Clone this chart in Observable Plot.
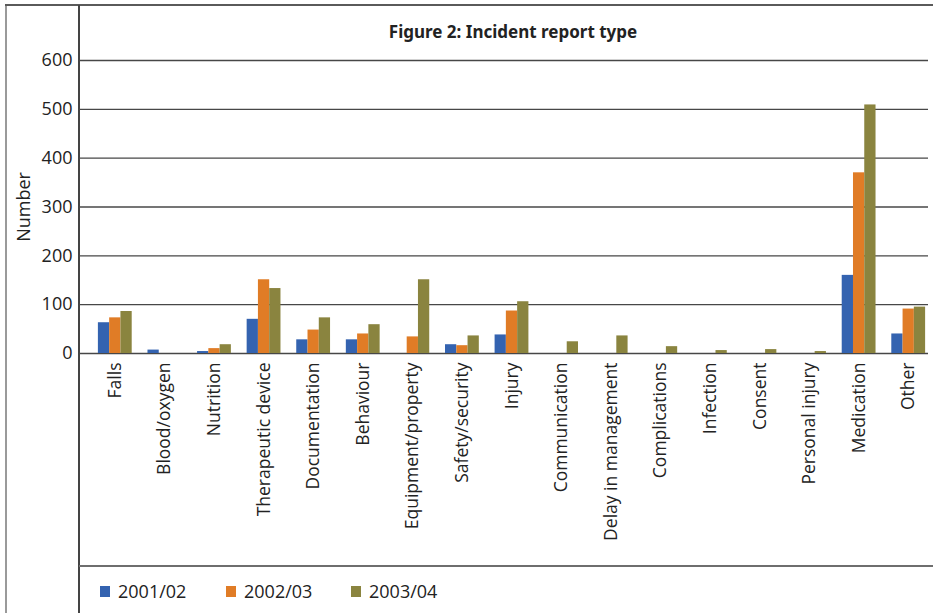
<!DOCTYPE html>
<html>
<head>
<meta charset="utf-8">
<script src="https://cdn.jsdelivr.net/npm/d3@7"></script>
<script src="https://cdn.jsdelivr.net/npm/@observablehq/plot@0.6"></script>
<style>
  html, body { margin: 0; padding: 0; background: #fff; }
  #chart { position: relative; width: 933px; height: 613px; overflow: hidden; font-family: "Open Sans", sans-serif; color: #222; }
  #chart svg { position: absolute; left: 0; top: 0; background: transparent; }
  .line { position: absolute; }
  #title { position: absolute; left: 79px; width: 868px; top: 20px; text-align: center; font-family: "Liberation Sans Narrow", "Noto Sans", sans-serif; font-weight: bold; font-size: 17px; }
  #legend { position: absolute; top: 579px; left: 100px; height: 24px; display: flex; align-items: center; font-size: 18px; }
  .item { display: flex; align-items: center; }
  .swatch { width: 10px; height: 11px; margin-right: 8px; }
</style>
</head>
<body>
<div id="chart">
  <div class="line" style="left:5px; top:4px; width:2px; height:609px; background:#9a9a9a;"></div>
  <div class="line" style="left:5px; top:4px; width:928px; height:2px; background:#5a5a5a;"></div>
  <div class="line" style="left:78px; top:5px; width:2px; height:608px; background:#444;"></div>
  <div class="line" style="left:79px; top:565px; width:854px; height:2px; background:#6e6e6e;"></div>
  <div id="title">Figure 2: Incident report type</div>
  <div id="legend"></div>
</div>
<script>
// Incident categories, in the order they are reported
const categories = [
  "Falls", "Blood/oxygen", "Nutrition", "Therapeutic device", "Documentation",
  "Behaviour", "Equipment/property", "Safety/security", "Injury", "Communication",
  "Delay in management", "Complications", "Infection", "Consent", "Personal injury",
  "Medication", "Other"
];

// Reporting years and their colours
const years = ["2001/02", "2002/03", "2003/04"];
const yearColors = ["#3463b0", "#e07c26", "#8a843f"];

// Number of incident reports per category, one array per year
const counts2001 = [63, 7, 4, 70, 28, 28, 0, 18, 38, 0, 0, 0, 0, 0, 0, 160, 40];
const counts2002 = [73, 0, 10, 151, 48, 40, 34, 16, 87, 0, 0, 0, 0, 0, 0, 370, 91];
const counts2003 = [86, 0, 18, 133, 73, 59, 151, 36, 106, 24, 36, 14, 6, 8, 4, 509, 95];

// Y axis ticks
const yTicks = [0, 100, 200, 300, 400, 500, 600];

const seriesByYear = [counts2001, counts2002, counts2003];
const rows = categories.flatMap((category, i) =>
  years.map((year, j) => ({category, year, value: seriesByYear[j][i]}))
);

const W = 933, H = 613;
const common = {
  width: W,
  height: H,
  marginTop: 60,
  marginBottom: 260,
};

// Value axis with horizontal gridlines
const gridPlot = Plot.plot({
  ...common,
  marginLeft: 79,
  marginRight: 5,
  style: {fontFamily: "Open Sans, sans-serif", fontSize: "18px", color: "#222", background: "transparent"},
  x: {axis: null, domain: [0, 1]},
  y: {
    domain: [0, 600],
    ticks: yTicks,
    tickSize: 0,
    tickPadding: 7,
    label: "Number",
    labelAnchor: "center",
    labelOffset: 62,
    labelArrow: "none"
  },
  marks: [
    Plot.ruleY(yTicks, {stroke: "#474747", strokeWidth: 1.4})
  ]
});

// Grouped bars: one facet per category, one bar per year
const barPlot = Plot.plot({
  ...common,
  marginLeft: 90,
  marginRight: 0,
  style: {fontFamily: "Open Sans, sans-serif", fontSize: "17.5px", color: "#222", background: "transparent"},
  fx: {
    domain: categories,
    padding: 0,
    round: false,
    axis: "bottom",
    tickRotate: -90,
    tickSize: 0,
    tickPadding: 9,
    label: null
  },
  x: {domain: years, axis: null, round: false, paddingInner: 0, paddingOuter: 0.7},
  y: {domain: [0, 600], axis: null},
  color: {domain: years, range: yearColors},
  marks: [
    Plot.barY(rows, {fx: "category", x: "year", y: "value", fill: "year", inset: 0})
  ]
});

const chart = document.getElementById("chart");
chart.appendChild(gridPlot);
chart.appendChild(barPlot);

// Legend below the chart area
const legend = document.getElementById("legend");
const legendLefts = [0, 126, 251];
years.forEach((year, j) => {
  const item = document.createElement("div");
  item.className = "item";
  item.style.position = "absolute";
  item.style.left = legendLefts[j] + "px";
  const sw = document.createElement("div");
  sw.className = "swatch";
  sw.style.background = yearColors[j];
  const label = document.createElement("span");
  label.textContent = year;
  item.appendChild(sw);
  item.appendChild(label);
  legend.appendChild(item);
});
</script>
</body>
</html>
